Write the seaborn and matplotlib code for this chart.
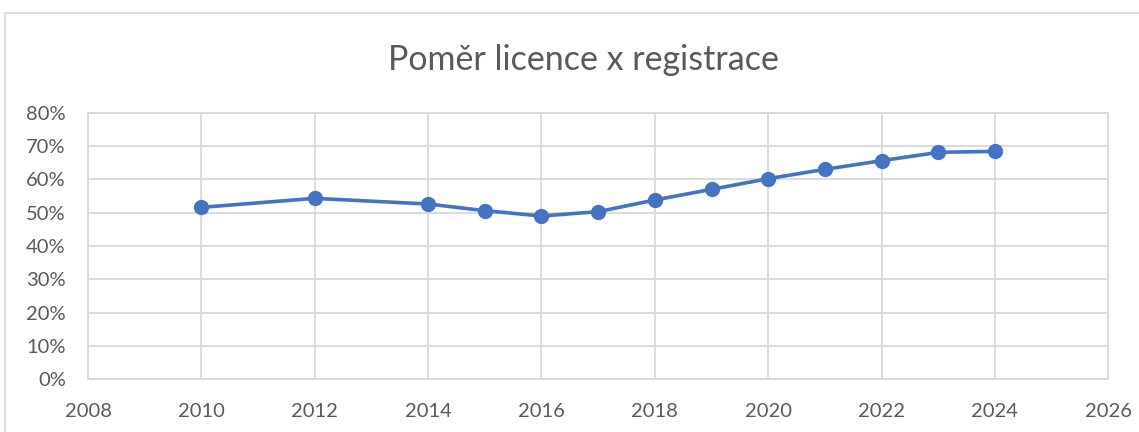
import matplotlib
matplotlib.use("Agg")
import matplotlib.pyplot as plt
import seaborn as sns
import pandas as pd
from matplotlib.ticker import FuncFormatter, MultipleLocator
from matplotlib.patches import Rectangle

years = [2010, 2012, 2014, 2015, 2016, 2017, 2018, 2019, 2020, 2021, 2022, 2023, 2024]
ratio = [0.516, 0.543, 0.526, 0.506, 0.490, 0.503, 0.538, 0.570, 0.602, 0.630, 0.656, 0.681, 0.684]
title = "Poměr licence x registrace"

df = pd.DataFrame({"year": years, "ratio": ratio})

sns.set_theme(style="white")
plt.rcParams['font.family'] = ['Lato', 'DejaVu Sans']

fig = plt.figure(figsize=(11.39, 4.32), dpi=100)
ax = fig.add_axes([88 / 1139, 1 - 379.3 / 432, (1108.3 - 88) / 1139, (379.3 - 112.7) / 432])

grid_c = "#D9D9D9"
text_c = "#595959"
line_c = "#4472C4"

sns.lineplot(data=df, x="year", y="ratio", ax=ax, color=line_c, linewidth=2.6,
             marker="o", markersize=11, markeredgecolor=line_c, markeredgewidth=0)

ax.set_xlim(2008, 2026)
ax.set_ylim(0, 0.8)
ax.xaxis.set_major_locator(MultipleLocator(2))
ax.yaxis.set_major_locator(MultipleLocator(0.1))
ax.yaxis.set_major_formatter(FuncFormatter(lambda v, p: f"{v*100:.0f}%"))
ax.grid(True, color=grid_c, linewidth=1.3)
ax.set_axisbelow(True)
for s in ax.spines.values():
    s.set_color(grid_c)
    s.set_linewidth(1.3)
ax.set_xlabel("")
ax.set_ylabel("")
ax.tick_params(axis="both", length=0, labelsize=14.5, labelcolor=text_c)
ax.tick_params(axis="y", pad=16)
ax.tick_params(axis="x", pad=17)

fig.text(583 / 1139, 1 - 60 / 432, title, ha="center", va="center",
         fontsize=24.5, color=text_c)

fig.patches.append(Rectangle((5 / 1139, -0.1), 1.2, 1 - 13 / 432 + 0.1,
                             transform=fig.transFigure, fill=False,
                             edgecolor=grid_c, linewidth=1.2))

fig.savefig("out.png", dpi=100)
